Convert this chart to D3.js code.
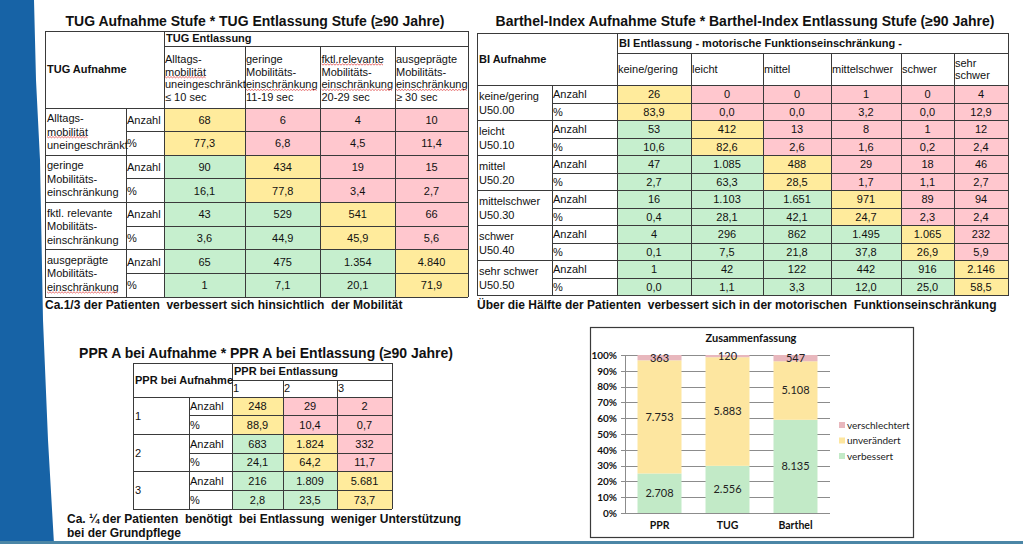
<!DOCTYPE html>
<html><head><meta charset="utf-8">
<script src="https://cdn.jsdelivr.net/npm/d3@7"></script>
<style>
html,body{margin:0;padding:0;background:#fff;}
svg{display:block;}
text{white-space:pre;}
</style></head>
<body><svg id="c" width="1023" height="544"></svg>
<script>
// ---------------- DATA ----------------
const tugTitle = "TUG Aufnahme Stufe * TUG Entlassung Stufe (≥90 Jahre)";
const tugRowHeader = "TUG Aufnahme";
const tugColHeader = "TUG Entlassung";
const tugRows = [["Alltags-","mobilität","uneingeschränkt"],["geringe","Mobilitäts-","einschränkung"],["fktl. relevante","Mobilitäts-","einschränkung"],["ausgeprägte","Mobilitäts-","einschränkung"]];
const tugCols = [["Alltags-","mobilität","uneingeschränkt","≤ 10 sec"],["geringe","Mobilitäts-","einschränkung","11-19 sec"],["fktl.relevante","Mobilitäts-","einschränkung","20-29 sec"],["ausgeprägte","Mobilitäts-","einschränkung","≥ 30 sec"]];
const tugCounts = [[68,6,4,10],[90,434,19,15],[43,529,541,66],[65,475,1354,4840]];
const tugPercents = [[77.3,6.8,4.5,11.4],[16.1,77.8,3.4,2.7],[3.6,44.9,45.9,5.6],[1,7.1,20.1,71.9]];
const tugCaption = ["Ca.1/3 der Patienten  verbessert sich hinsichtlich  der Mobilität"];

const biTitle = "Barthel-Index Aufnahme Stufe * Barthel-Index Entlassung Stufe (≥90 Jahre)";
const biRowHeader = "BI Aufnahme";
const biColHeader = "BI Entlassung - motorische Funktionseinschränkung -";
const biRows = [["keine/gering","U50.00"],["leicht","U50.10"],["mittel","U50.20"],["mittelschwer","U50.30"],["schwer","U50.40"],["sehr schwer","U50.50"]];
const biCols = [["keine/gering"],["leicht"],["mittel"],["mittelschwer"],["schwer"],["sehr","schwer"]];
const biCounts = [[26,0,0,1,0,4],[53,412,13,8,1,12],[47,1085,488,29,18,46],[16,1103,1651,971,89,94],[4,296,862,1495,1065,232],[1,42,122,442,916,2146]];
const biPercents = [[83.9,0,0,3.2,0,12.9],[10.6,82.6,2.6,1.6,0.2,2.4],[2.7,63.3,28.5,1.7,1.1,2.7],[0.4,28.1,42.1,24.7,2.3,2.4],[0.1,7.5,21.8,37.8,26.9,5.9],[0,1.1,3.3,12.0,25.0,58.5]];
const biCaption = ["Über die Hälfte der Patienten  verbessert sich in der motorischen  Funktionseinschränkung"];

const pprTitle = "PPR A bei Aufnahme * PPR A bei Entlassung (≥90 Jahre)";
const pprRowHeader = "PPR bei Aufnahme";
const pprColHeader = "PPR bei Entlassung";
const pprRows = [["1"],["2"],["3"]];
const pprCols = [["1"],["2"],["3"]];
const pprCounts = [[248,29,2],[683,1824,332],[216,1809,5681]];
const pprPercents = [[88.9,10.4,0.7],[24.1,64.2,11.7],[2.8,23.5,73.7]];
const pprCaption = ["Ca. ¼ der Patienten  benötigt  bei Entlassung  weniger Unterstützung","bei der Grundpflege"];

const subRowLabels = ["Anzahl","%"];

const sumTitle = "Zusammenfassung";
const sumCategories = ["PPR","TUG","Barthel"];
const sumSeries = ["verbessert","unverändert","verschlechtert"];
const sumVerbessert = [2708,2556,8135];
const sumUnveraendert = [7753,5883,5108];
const sumVerschlechtert = [363,120,547];
const sumTicks = [0,0.1,0.2,0.3,0.4,0.5,0.6,0.7,0.8,0.9,1];

// ---------------- STYLE / LAYOUT ----------------
const loc = d3.formatLocale({decimal:",", thousands:".", grouping:[3], currency:["","€"]});
const fInt = loc.format(",d"), f1 = loc.format(",.1f");
const fTugPct = v => Number.isInteger(v) ? fInt(v) : f1(v);
const cellColors = {better:"#c6efce", same:"#ffeb9c", worse:"#ffc7ce"};
const lineCol = "#3a3a3a";
const tFont = "'Liberation Sans', Arial, sans-serif";
const cFont = "Lato, 'Open Sans', sans-serif";
// spell-check squiggles (decoration): [column/row index, line index]
const tugHeadSquiggle = [[0,1],[1,2],[2,0],[2,2],[3,2]];
const tugRowSquiggle = [[0,1],[3,2]];

const svg = d3.select("#c");

// background decorations
const bandPts = [[0,0],[34,0],[36,80],[40,160],[43,320],[48,440],[54,544],[0,544]];
svg.append("path").attr("d", d3.line()(bandPts)+"Z").attr("fill","#1763a6");
svg.append("rect").attr("x",0).attr("y",541).attr("width",1023).attr("height",3).attr("fill","#4b86a6");

function squiggle(g, node, cellRight){
  const bb = node.getBBox();
  const x0 = bb.x, x1 = Math.min(bb.x+bb.width, cellRight), y0 = bb.y+bb.height-1;
  const pts = [];
  for(let xx=x0, k=0; xx<=x1; xx+=1.5, k++) pts.push([xx, y0 + (k%2 ? 1.2 : 0)]);
  g.append("path").attr("d", d3.line()(pts)).attr("fill","none").attr("stroke","#e04a4a").attr("stroke-width",0.8);
}

function drawTable(cfg){
  const g = svg.append("g");
  const nC = cfg.cols.length;
  const colKeys = d3.range(nC+3);
  const x = d3.scaleOrdinal().domain(colKeys).range(cfg.xEdges);
  const xData = j => x(j+2), wData = j => x(j+3) - x(j+2);
  const groups = d3.scaleBand().domain(d3.range(cfg.rows.length)).range([cfg.bodyTop, cfg.bottom]);
  const sub = groups.bandwidth()/2;
  const left = x(0), right = x(nC+2);
  const top = cfg.top, h1 = cfg.h1;

  g.append("text").attr("x", cfg.titleX).attr("y", cfg.titleY).attr("text-anchor","middle")
    .attr("font-family", tFont).attr("font-weight","bold").attr("font-size", cfg.titleSize).attr("fill","#111").text(cfg.title);

  cfg.counts.forEach((row,i)=>{
    row.forEach((v,j)=>{
      const c = j<i ? cellColors.better : (j===i ? cellColors.same : cellColors.worse);
      [v, cfg.percents[i][j]].forEach((val,k)=>{
        const y0 = groups(i) + k*sub;
        g.append("rect").attr("x", xData(j)).attr("y", y0).attr("width", wData(j)).attr("height", sub).attr("fill", c);
        g.append("text").attr("x", xData(j)+wData(j)/2).attr("y", y0+sub/2).attr("dy","0.36em")
          .attr("text-anchor","middle").attr("font-family",tFont).attr("font-size",cfg.fs).attr("fill","#111")
          .text(k===0 ? fInt(val) : cfg.pctFmt(val));
      });
    });
  });

  const L = (x1,y1,x2,y2)=>g.append("line").attr("x1",x1).attr("y1",y1).attr("x2",x2).attr("y2",y2)
      .attr("stroke",lineCol).attr("stroke-width",1).attr("shape-rendering","crispEdges");
  L(left, top, right, top);
  L(left, cfg.bottom, right, cfg.bottom);
  L(left, top, left, cfg.bottom);
  L(right, top, right, cfg.bottom);
  L(x(2), h1, right, h1);
  L(left, cfg.bodyTop, right, cfg.bodyTop);
  L(x(2), top, x(2), cfg.bottom);
  for(let j=1;j<nC;j++) L(xData(j), h1, xData(j), cfg.bottom);
  L(x(1), cfg.bodyTop, x(1), cfg.bottom);
  cfg.rows.forEach((r,i)=>{
    if(i>0) L(left, groups(i), right, groups(i));
    L(x(1), groups(i)+sub, right, groups(i)+sub);
  });

  const T = (tx,ty,s,bold)=>g.append("text").attr("x",tx).attr("y",ty).attr("dy","0.36em")
      .attr("font-family",tFont).attr("font-size",cfg.fs).attr("font-weight",bold?"bold":"normal").attr("fill","#111").text(s);
  T(left+2, (top+cfg.bodyTop)/2, cfg.rowHeader, true);
  T(x(2)+2, (top+h1)/2, cfg.colHeader, true);
  cfg.cols.forEach((lines,j)=>{
    const cy = (h1+cfg.bodyTop)/2 + cfg.colHeadShift;
    lines.forEach((s,k)=>{
      const t = T(xData(j)+1, cy + (k-(lines.length-1)/2)*cfg.lh, s, false);
      if((cfg.headSq||[]).some(p=>p[0]===j && p[1]===k)) squiggle(g, t.node(), x(j+3)+6);
    });
  });
  cfg.rows.forEach((lines,i)=>{
    const cy = groups(i)+groups.bandwidth()/2 + cfg.rowLabShift;
    lines.forEach((s,k)=>{
      const t = T(left+2, cy + (k-(lines.length-1)/2)*cfg.rlh, s, false);
      if((cfg.rowSq||[]).some(p=>p[0]===i && p[1]===k)) squiggle(g, t.node(), x(1));
    });
    subRowLabels.forEach((s,k)=>T(x(1)+1, groups(i)+k*sub+sub/2, s, false));
  });
  cfg.caption.forEach((s,k)=>g.append("text").attr("x",cfg.capX).attr("y",cfg.capY + k*cfg.capLh).attr("dy","0.36em")
    .attr("font-family",tFont).attr("font-size",cfg.capSize).attr("font-weight","bold").attr("fill","#111").text(s));
}

drawTable({title:tugTitle, titleX:255, titleY:26, titleSize:14,
  rowHeader:tugRowHeader, colHeader:tugColHeader, rows:tugRows, cols:tugCols, counts:tugCounts, percents:tugPercents,
  pctFmt:fTugPct, xEdges:[45,126,164,245,320.5,395,468], top:31, h1:46, bodyTop:108, bottom:297,
  fs:11, lh:12.7, rlh:13.5, colHeadShift:1, rowLabShift:0, caption:tugCaption, capX:45, capY:305, capLh:14, capSize:12,
  headSq:tugHeadSquiggle, rowSq:tugRowSquiggle});

drawTable({title:biTitle, titleX:745, titleY:26, titleSize:14,
  rowHeader:biRowHeader, colHeader:biColHeader, rows:biRows, cols:biCols, counts:biCounts, percents:biPercents,
  pctFmt:f1, xEdges:[477,552,617,691,763,831,901,954,1008], top:33, h1:53, bodyTop:85.5, bottom:295.5,
  fs:11, lh:12, rlh:14, colHeadShift:0, rowLabShift:0, caption:biCaption, capX:477, capY:305, capLh:14, capSize:12});

drawTable({title:pprTitle, titleX:266, titleY:358, titleSize:14,
  rowHeader:pprRowHeader, colHeader:pprColHeader, rows:pprRows, cols:pprCols, counts:pprCounts, percents:pprPercents,
  pctFmt:f1, xEdges:[133,189,232,283,337,392], top:363, h1:380, bodyTop:397, bottom:509,
  fs:11, lh:12, rlh:14, colHeadShift:0, rowLabShift:0, caption:pprCaption, capX:67, capY:519, capLh:14, capSize:12});

// ---------------- SUMMARY CHART ----------------
(function(){
  const box = {x:590, y:327, w:323, h:210};
  const g = svg.append("g");
  g.append("rect").attr("x",box.x+0.5).attr("y",box.y+0.5).attr("width",box.w).attr("height",box.h)
    .attr("fill","#fff").attr("stroke","#3a3a3a").attr("stroke-width",1.2);
  const plot = {l:625, r:830, t:355, b:513};
  const x = d3.scaleBand().domain(sumCategories).range([plot.l, plot.r]).paddingInner(0.353).paddingOuter(0.184);
  const y = d3.scaleLinear().domain([0,1]).range([plot.b, plot.t]);
  const color = d3.scaleOrdinal().domain(sumSeries).range(["#c2eac7","#fde6a0","#e8b7bd"]);
  const rows = sumCategories.map((c,i)=>{
    const tot = sumVerbessert[i]+sumUnveraendert[i]+sumVerschlechtert[i];
    return {cat:c, verbessert:sumVerbessert[i]/tot, "unverändert":sumUnveraendert[i]/tot, verschlechtert:sumVerschlechtert[i]/tot,
      raw:{verbessert:sumVerbessert[i], "unverändert":sumUnveraendert[i], verschlechtert:sumVerschlechtert[i]}};
  });
  const stack = d3.stack().keys(sumSeries)(rows);

  g.append("text").attr("x", 751).attr("y", 338).attr("dy","0.36em").attr("text-anchor","middle")
    .attr("font-family",cFont).attr("font-weight","bold").attr("font-size",11).attr("fill","#111").text(sumTitle);

  g.append("g").selectAll("line").data(sumTicks).join("line")
    .attr("x1",plot.l-4).attr("x2",plot.r).attr("y1",d=>Math.round(y(d))+0.5).attr("y2",d=>Math.round(y(d))+0.5)
    .attr("stroke","#8c8c8c").attr("stroke-width",1);
  g.append("line").attr("x1",plot.l+0.5).attr("x2",plot.l+0.5).attr("y1",plot.t).attr("y2",plot.b).attr("stroke","#8c8c8c");
  const ya = g.append("g").attr("transform",`translate(${plot.l-6},0)`)
    .call(d3.axisLeft(y).tickValues(sumTicks).tickFormat(d3.format(".0%")).tickSize(0).tickPadding(2));
  ya.select(".domain").remove();
  ya.selectAll("text").attr("font-family",cFont).attr("font-weight","bold").attr("font-size",10).attr("fill","#111");

  stack.forEach(s=>{
    g.append("g").selectAll("rect").data(s).join("rect")
      .attr("x",d=>x(d.data.cat)).attr("width",x.bandwidth())
      .attr("y",d=>y(d[1])).attr("height",d=>y(d[0])-y(d[1])).attr("fill",color(s.key));
    g.append("g").selectAll("text").data(s).join("text")
      .attr("x",d=>x(d.data.cat)+x.bandwidth()/2).attr("y",d=>(y(d[0])+y(d[1]))/2).attr("dy","0.36em")
      .attr("text-anchor","middle").attr("font-family",cFont).attr("font-size",11).attr("fill","#222")
      .text(d=>fInt(d.data.raw[s.key]));
  });

  const xa = g.append("g").attr("transform",`translate(0,${plot.b})`).call(d3.axisBottom(x).tickSize(0).tickPadding(9));
  xa.select(".domain").remove();
  xa.selectAll("text").attr("font-family",cFont).attr("font-weight","bold").attr("font-size",10.5).attr("fill","#111");

  const legOrder = sumSeries.slice().reverse();
  const lg = g.append("g").selectAll("g").data(legOrder).join("g")
    .attr("transform",(d,i)=>`translate(839,${425 + i*15.5})`);
  lg.append("rect").attr("x",0).attr("y",-3).attr("width",6).attr("height",6).attr("fill",d=>color(d));
  lg.append("text").attr("x",8).attr("y",0).attr("dy","0.36em").attr("font-family",cFont).attr("font-size",10).attr("fill","#222").text(d=>d);
})();
</script>
</body></html>
